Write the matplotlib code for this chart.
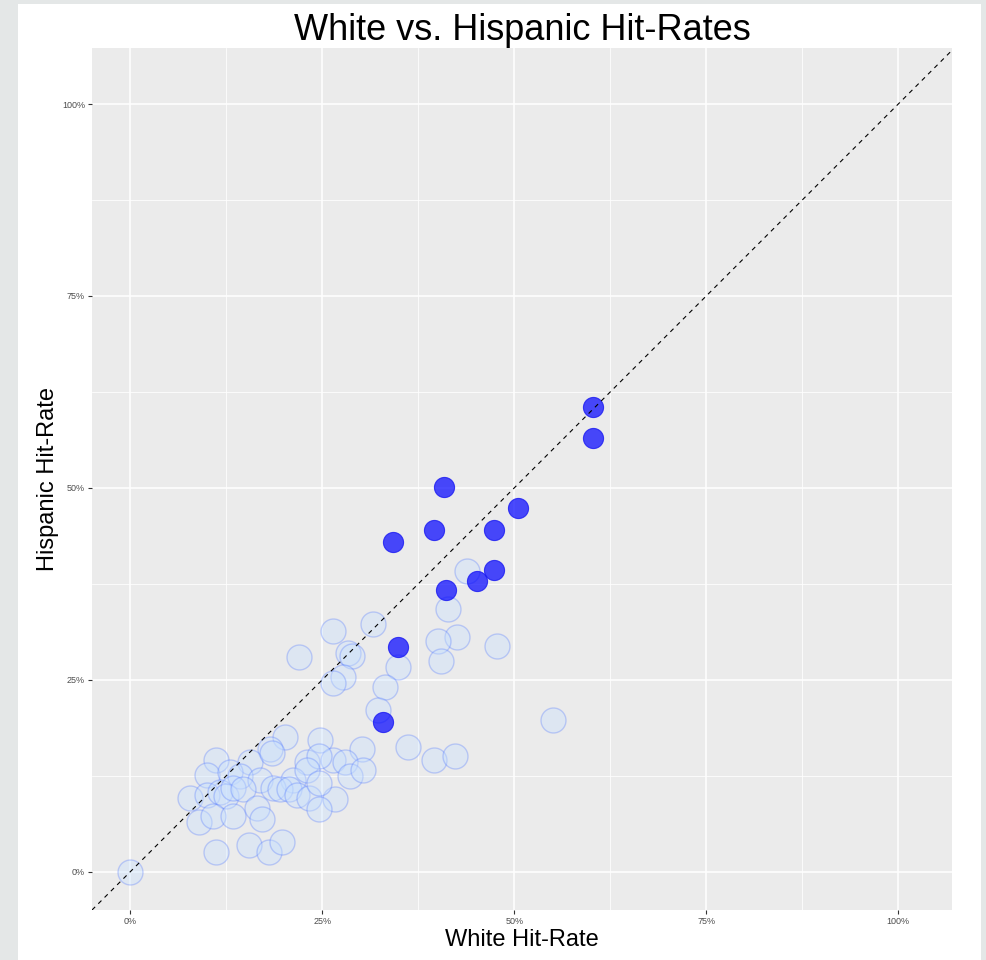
#---------------Imports-----------------
import numpy as np
import matplotlib.pyplot as plt
from matplotlib.patches import Rectangle

plt.rcParams['font.family'] = ['Liberation Sans', 'DejaVu Sans']

#---------------Data---------------------------------
# hit-rates for all departments (light circles)
white_all = [0.000, 0.551, 0.478, 0.426, 0.401, 0.404, 0.414, 0.439, 0.316, 0.264,
             0.219, 0.284, 0.289, 0.277, 0.264, 0.348, 0.332, 0.323, 0.361, 0.395,
             0.423, 0.201, 0.247, 0.182, 0.302, 0.111, 0.156, 0.230, 0.264, 0.280,
             0.245, 0.100, 0.130, 0.143, 0.169, 0.212, 0.230, 0.286, 0.078, 0.100,
             0.117, 0.124, 0.133, 0.147, 0.186, 0.195, 0.206, 0.217, 0.232, 0.267,
             0.245, 0.089, 0.107, 0.133, 0.165, 0.172, 0.154, 0.180, 0.197, 0.112,
             0.303, 0.185, 0.245]
hispanic_all = [0.000, 0.197, 0.294, 0.306, 0.301, 0.275, 0.342, 0.392, 0.322, 0.313,
                0.279, 0.285, 0.281, 0.254, 0.246, 0.267, 0.241, 0.210, 0.163, 0.145,
                0.151, 0.176, 0.172, 0.160, 0.160, 0.146, 0.143, 0.143, 0.146, 0.143,
                0.150, 0.126, 0.130, 0.124, 0.120, 0.120, 0.133, 0.124, 0.096, 0.100,
                0.104, 0.098, 0.109, 0.107, 0.109, 0.107, 0.107, 0.100, 0.096, 0.094,
                0.081, 0.065, 0.072, 0.072, 0.083, 0.068, 0.035, 0.026, 0.039, 0.025,
                0.133, 0.155, 0.116]

# highlighted departments (solid blue)
white_hi = [0.602, 0.602, 0.409, 0.505, 0.395, 0.474, 0.342, 0.473, 0.451, 0.411, 0.348, 0.329]
hispanic_hi = [0.605, 0.565, 0.501, 0.474, 0.445, 0.445, 0.430, 0.393, 0.379, 0.367, 0.293, 0.195]

tick_vals = [0, 0.25, 0.5, 0.75, 1.0]
tick_labels = ['0%', '25%', '50%', '75%', '100%']

#---------------Figure---------------------------------
fig = plt.figure(figsize=(9.87, 9.6), dpi=100)
fig.patch.set_facecolor('#e4e7e7')
# white card behind the plot (zorder below the axes)
fig.patches.append(Rectangle((18/987, 0), 963/987, 956/960, transform=fig.transFigure,
                             facecolor='white', edgecolor='none', zorder=-10))

ax = fig.add_axes([92/987, 1 - 910/960, 860/987, 862/960])
ax.set_facecolor('#ebebeb')
for s in ax.spines.values():
    s.set_visible(False)

ax.set_xlim(-0.05, 1.07)
ax.set_ylim(-0.05, 1.073)

# grid like ggplot
ax.set_xticks(tick_vals)
ax.set_yticks(tick_vals)
ax.set_xticks([0.125, 0.375, 0.625, 0.875], minor=True)
ax.set_yticks([0.125, 0.375, 0.625, 0.875], minor=True)
ax.grid(which='major', color='white', linewidth=1.1)
ax.grid(which='minor', color='white', linewidth=0.55)
ax.set_axisbelow(True)
ax.tick_params(which='minor', length=0)
ax.tick_params(which='major', length=3, width=0.8, color='#333333',
               labelsize=6.5, labelcolor='#4d4d4d', pad=2)
ax.set_xticklabels(tick_labels)
ax.set_yticklabels(tick_labels)

# points
ax.scatter(white_all, hispanic_all, s=324, facecolor=(0.78, 0.88, 1.0, 0.38),
           edgecolor=(0.3, 0.45, 1.0, 0.3), linewidth=1.0, zorder=2)
ax.scatter(white_hi, hispanic_hi, s=210, facecolor=(0.0, 0.0, 1.0, 0.7),
           edgecolor=(0.1, 0.1, 0.95, 0.8), linewidth=0.8, zorder=3)

# y = x reference
ax.axline((0, 0), slope=1, color='black', linestyle=(0, (4, 4)), linewidth=0.8, zorder=4)

ax.set_title('White vs. Hispanic Hit-Rates', fontsize=26, pad=6)
ax.set_xlabel('White Hit-Rate', fontsize=17, labelpad=2)
ax.set_ylabel('Hispanic Hit-Rate', fontsize=17, labelpad=2)

fig.savefig('out.png', dpi=100, facecolor=fig.get_facecolor())
